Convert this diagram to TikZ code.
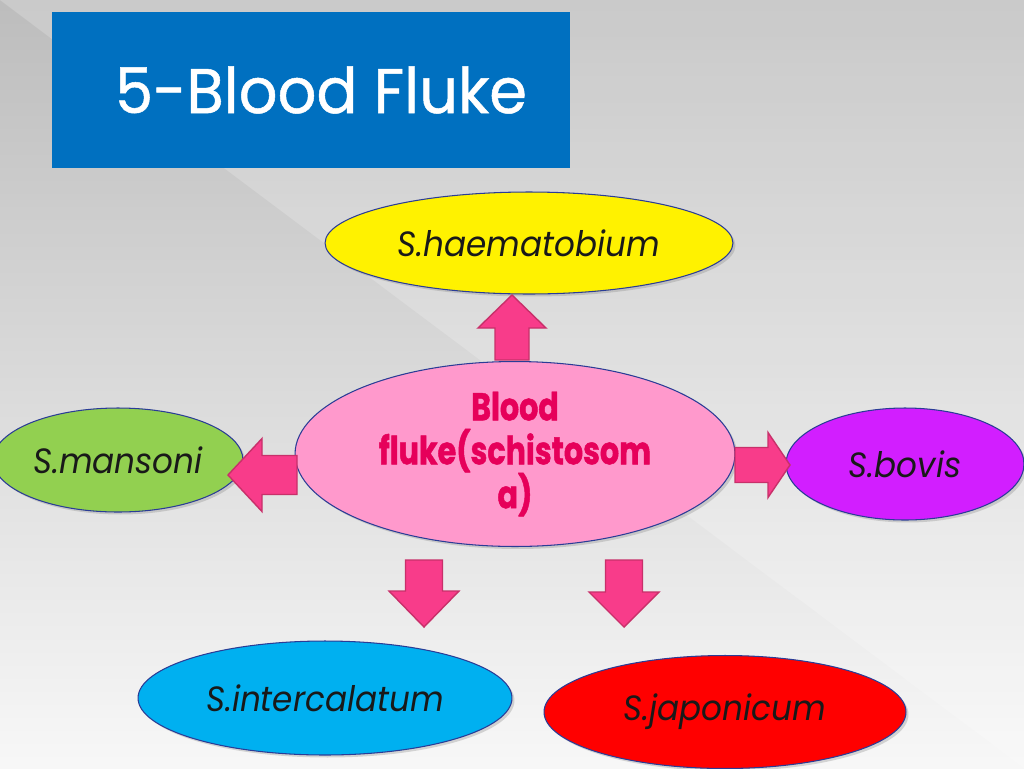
\documentclass[tikz,border=0pt]{standalone}
\usepackage{fontspec}
\setmainfont{Poppins}
\newfontfamily\titlefont[FakeBold=0.8, FakeStretch=0.96]{Poppins}
\newfontfamily\labelfont[FakeStretch=0.93]{Poppins}
\newfontfamily\hubfont[FakeBold=1.2, FakeStretch=0.78]{Poppins}
\usetikzlibrary{shapes.geometric,shadows}
\definecolor{titleblue}{HTML}{0070C0}
\definecolor{hubpink}{HTML}{FF99CC}
\definecolor{hubtext}{HTML}{E6005A}
\definecolor{arrowpink}{HTML}{F83C8A}
\definecolor{arrowedge}{HTML}{C8306A}
\definecolor{rimblue}{HTML}{2A3C96}
\definecolor{leafgreen}{HTML}{92D050}
\definecolor{leafpurple}{HTML}{D21EFF}
\definecolor{leafcyan}{HTML}{00B0F0}
\tikzset{
  species/.style={ellipse, draw=rimblue, line width=0.6pt, inner sep=0pt,
    font=\labelfont\itshape\fontsize{20}{22}\selectfont, text=black!90,
    drop shadow={opacity=0.3, shadow xshift=0.05cm, shadow yshift=-0.05cm}},
  fatarrow/.style={fill=arrowpink, draw=arrowedge, line width=0.8pt, line join=miter}
}
\def\fatarrow(#1)(#2:#3:#4:#5:#6){\draw[fatarrow,shift={(#1)},rotate=#2] (0,-0.5*#6) -- (#3-#4,-0.5*#6) -- (#3-#4,-0.5*#5) -- (#3,0) -- (#3-#4,0.5*#5) -- (#3-#4,0.5*#6) -- (0,0.5*#6) -- cycle;}

\begin{document}
\begin{tikzpicture}[x=0.02cm, y=-0.02cm]
  \useasboundingbox (0,0) rectangle (1024,768);
  %%%%% BACKGROUND %%%%%
  \shade[top color=black!26, bottom color=black!3] (0,0) rectangle (1024,768);
  \fill[white, opacity=0.2] (0,0) -- (1024,0) -- (1024,768) -- cycle;

  %%%%% TITLE %%%%%
  \node[fill=titleblue, minimum width=10.36cm, minimum height=3.12cm, text=white,
    font=\titlefont\fontsize{36}{40}\selectfont] (title) at (311,90) {\hspace*{0.4cm}5-Blood Fluke};

  %%%%% ELLIPSES %%%%%
  \node[ellipse, fill=hubpink, draw=rimblue, line width=0.6pt, inner sep=0pt,
    minimum width=8.8cm, minimum height=3.7cm, align=center, text=hubtext,
    font=\hubfont\bfseries\fontsize{22}{25}\selectfont,
    drop shadow={opacity=0.3, shadow xshift=0.05cm, shadow yshift=-0.05cm}]
    (hub) at (515,454) {Blood\\fluke(schistosom\\a)};

  \node[species, fill=yellow, minimum width=8.16cm, minimum height=2.04cm] (haem) at (529,243) {S.haematobium};
  \node[species, fill=leafgreen, minimum width=5cm, minimum height=2.08cm] (mans) at (118,460) {S.mansoni};
  \node[species, fill=leafpurple, minimum width=4.76cm, minimum height=2.24cm] (bovis) at (905,464) {S.bovis};
  \node[species, fill=leafcyan, minimum width=7.48cm, minimum height=2.28cm] (inter) at (325,698) {S.intercalatum};
  \node[species, fill=red, minimum width=7.24cm, minimum height=2.26cm] (japo) at (725,712) {S.japonicum};

  %%%%% ARROWS %%%%%
  \fatarrow(512,360)(90:65:33:68:34)
  \fatarrow(297,475)(180:69:34:73:39)
  \fatarrow(735,465)(0:55:22:65:35)
  \fatarrow(424,560)(-90:67:36:70:37)
  \fatarrow(624,560)(-90:67:35:70:37)
\end{tikzpicture}
\end{document}
